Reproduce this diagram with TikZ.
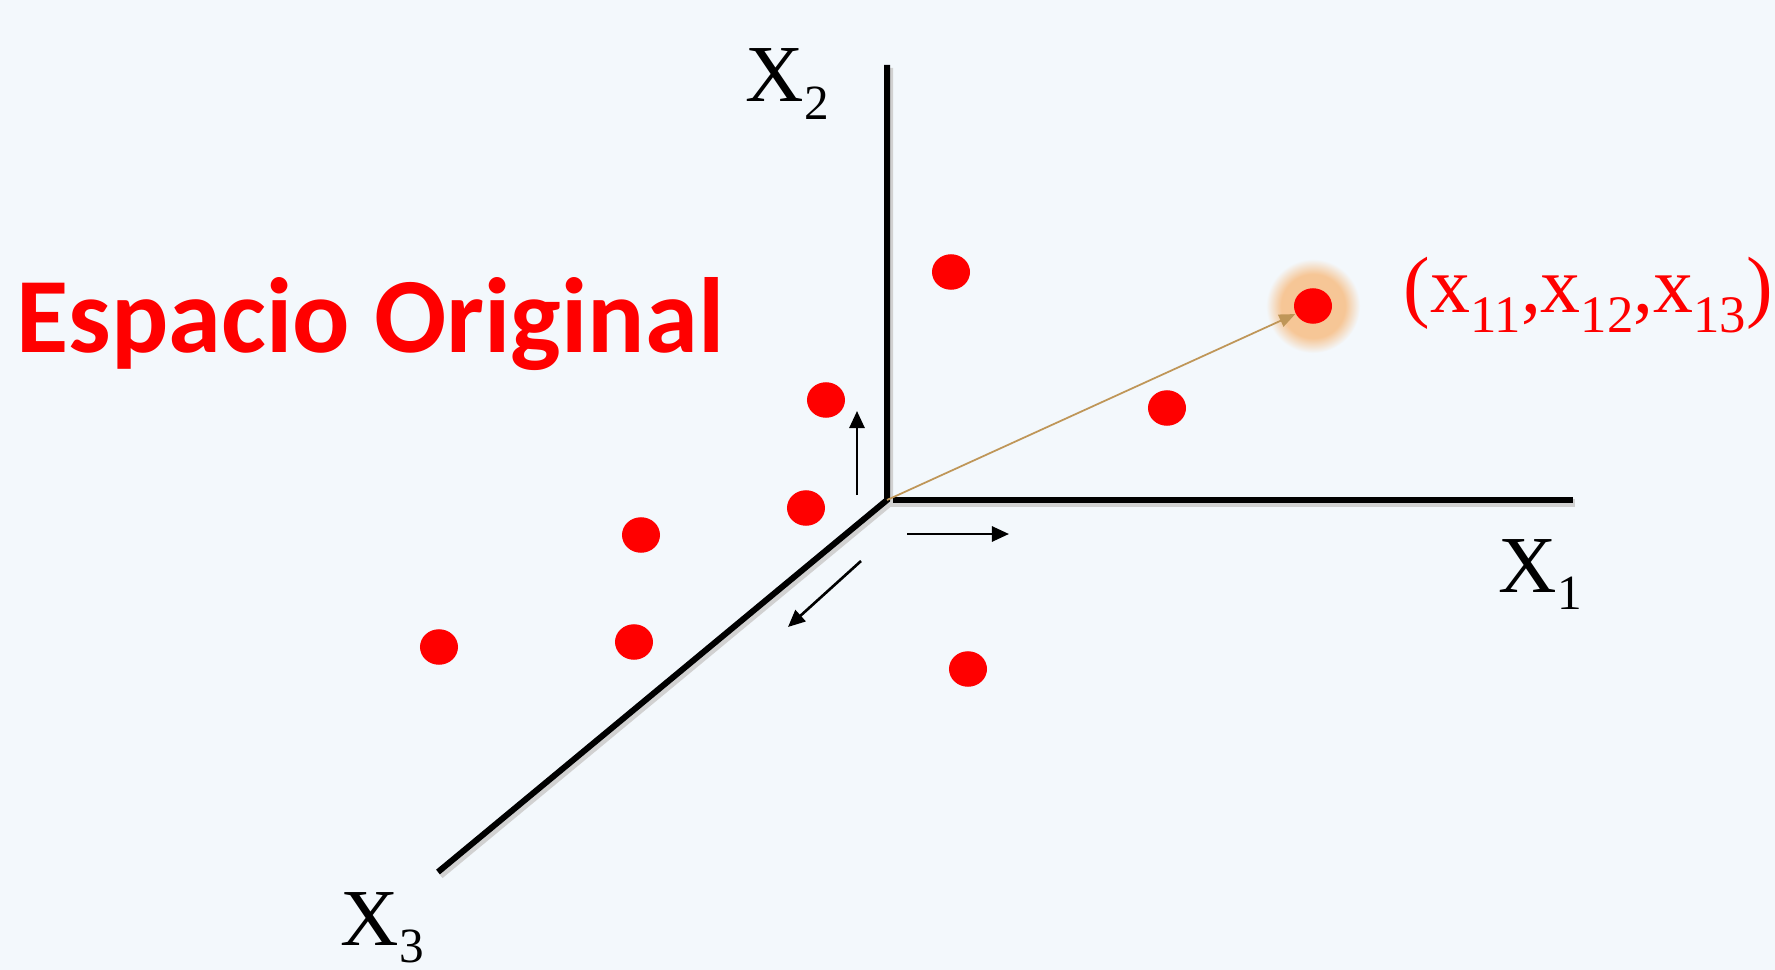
\documentclass[tikz,border=0pt]{standalone}
\usepackage{fontspec}
\setmainfont{Liberation Serif}
\newfontfamily\titlefont{Carlito}
\usepackage{tikz}
\usetikzlibrary{arrows.meta, shapes.geometric}

\definecolor{bgblue}{RGB}{243,248,252}
\definecolor{vecbrown}{RGB}{191,150,88}
\definecolor{gloworange}{RGB}{246,198,150}
\definecolor{dotred}{RGB}{255,0,0}

\pgfdeclareradialshading{glowshade}{\pgfpointorigin}{color(0bp)=(gloworange); color(17bp)=(gloworange); color(25bp)=(bgblue); color(50bp)=(bgblue)}

\newcommand\axlab[1]{X\raisebox{-0.22em}{\fontsize{14}{14}\selectfont #1}}
\newcommand\xsub[1]{x\raisebox{-0.24em}{\fontsize{15}{15}\selectfont #1}}

\tikzset{
  dot/.style={ellipse, fill=dotred, minimum width=0.38cm, minimum height=0.355cm, inner sep=0pt},
  axis/.style={line width=0.06cm, black},
  axshadow/.style={line width=0.08cm, black!18},
  unitvec/.style={line width=0.75pt, -{Triangle[length=0.17cm, width=0.15cm]}},
  axname/.style={inner sep=0pt, anchor=base west, font=\fontsize{23}{28}\selectfont}
}

\begin{document}
\begin{tikzpicture}[x=0.01cm, y=-0.01cm]
\fill[bgblue] (0,0) rectangle (1775,970);

% axes
\coordinate (O) at (887,500);
\coordinate (x1end) at (1573,500);
\coordinate (x2end) at (887,65);
\coordinate (x3end) at (438,872);

\begin{scope}[transform canvas={shift={(0.02cm,-0.03cm)}}]
  \draw[axshadow] (x2end) -- (O) -- (x3end);
  \draw[axshadow] (O) -- (x1end);
\end{scope}
\draw[axis, miter limit=4] (x2end) -- (O) -- (x3end);
\draw[axis] ([xshift=0.06cm]O) -- (x1end);

% highlighted point
\shade[shading=glowshade] (1313,306) circle (0.47cm);

% points
\node[dot] (p1) at (951,272) {};
\node[dot] (pbig) at (1313,306) {};
\node[dot] (p3) at (826,400) {};
\node[dot] (p4) at (1167,408) {};
\node[dot] (p5) at (806,508) {};
\node[dot] (p6) at (641,535) {};
\node[dot] (p7) at (439,647) {};
\node[dot] (p8) at (634,642) {};
\node[dot] (p9) at (968,669) {};

% vector to the point
\draw[vecbrown, line width=0.5pt, -{Triangle[length=0.16cm, width=0.13cm]}] (O) -- (pbig);

% unit directions
\draw[unitvec] (857,495) -- (857,411);
\draw[unitvec] (907,534) -- (1009,534);
\draw[unitvec] (861,561) -- (788,627);

% labels
\node[axname] (lx2) at (745,102) {\axlab{2}};
\node[axname] (lx1) at (1498,592) {\axlab{1}};
\node[axname] (lx3) at (340,945) {\axlab{3}};
\node[inner sep=0pt, anchor=base west, text=dotred, font=\fontsize{22.7}{28}\selectfont] (coord) at (1403,313) {(\xsub{11},\xsub{12},\xsub{13})};
\node[inner sep=0pt, anchor=base west, text=dotred, font=\titlefont\bfseries\fontsize{30.4}{36}\selectfont] (title) at (16,353) {Espacio Original};
\end{tikzpicture}
\end{document}
